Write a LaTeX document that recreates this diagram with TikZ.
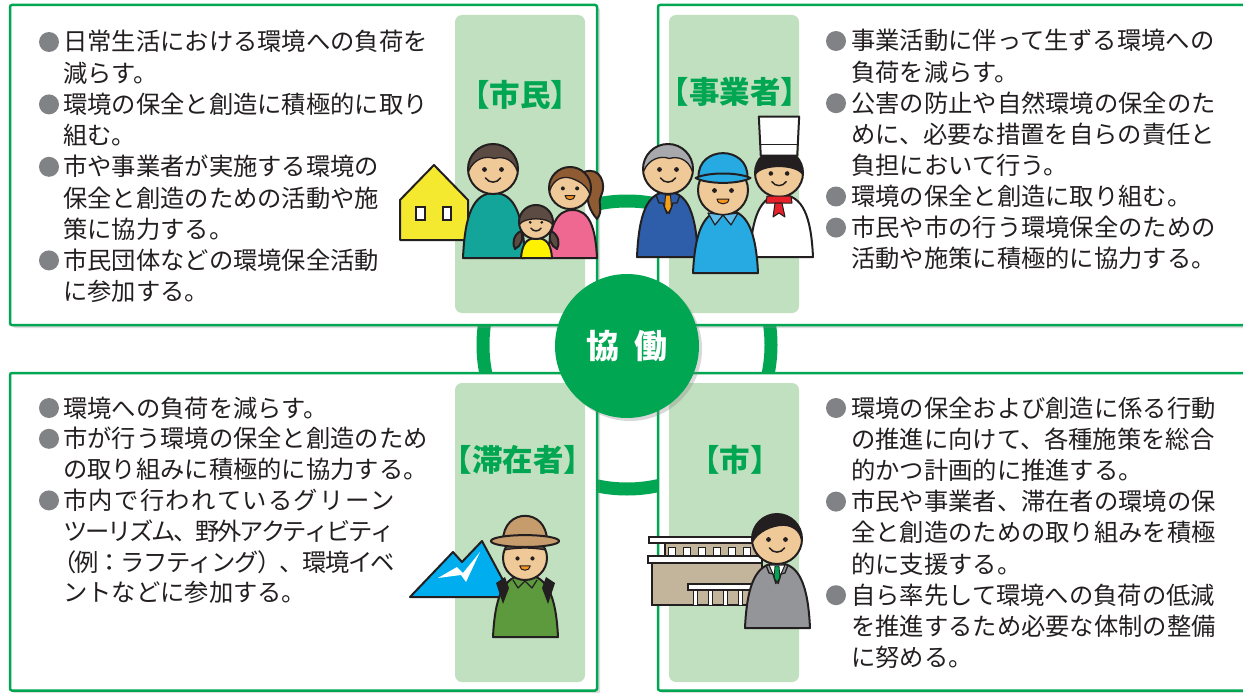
\documentclass[tikz,border=0pt]{standalone}
\usepackage{fontspec}
\newfontfamily\jp{Noto Sans CJK JP}
\usetikzlibrary{shadows}

\definecolor{kgreen}{RGB}{0,166,81}
\definecolor{colfill}{RGB}{193,224,191}
\definecolor{ink}{RGB}{35,31,32}
\definecolor{dotgray}{RGB}{128,130,133}
\definecolor{skin}{RGB}{240,201,152}
\definecolor{hairdk}{RGB}{92,75,66}
\definecolor{hairbr}{RGB}{142,91,51}
\definecolor{hairgy}{RGB}{167,169,172}
\definecolor{shirtteal}{RGB}{19,165,154}
\definecolor{pinkc}{RGB}{239,104,145}
\definecolor{girly}{RGB}{255,242,0}
\definecolor{housey}{RGB}{244,233,47}
\definecolor{navy}{RGB}{46,94,169}
\definecolor{ltblue}{RGB}{39,170,225}
\definecolor{collarb}{RGB}{95,190,235}
\definecolor{hikerg}{RGB}{92,154,61}
\definecolor{hattan}{RGB}{198,156,109}
\definecolor{mtblue}{RGB}{0,174,239}
\definecolor{bldtan}{RGB}{195,181,156}
\definecolor{suitg}{RGB}{147,149,152}
\definecolor{mouthc}{RGB}{247,148,29}
\definecolor{scarf}{RGB}{232,32,42}
\definecolor{tieor}{RGB}{246,160,26}

% spread the characters of a line evenly over a given width
\makeatletter
\def\sp@read#1#2\@nil{#1\if\relax\detokenize{#2}\relax\else\hskip0pt plus1fil minus1fil\sp@read#2\@nil\fi}
\newcommand\spreadto[2]{\makebox[#1][s]{\sp@read#2\@nil}}
\makeatother

% face parts, in units of the head radius (y points down)
\newcommand\mkeyes{\fill[ink] (-0.34,0.02) circle (0.095); \fill[ink] (0.34,0.02) circle (0.095);}
\newcommand\mksmile{\draw[ink,line width=1.5pt,line cap=round] (-0.3,0.36) .. controls (-0.15,0.58) and (0.15,0.58) .. (0.3,0.36);}
\newcommand\mkgrin{\filldraw[fill=mouthc,draw=ink,line width=1pt,line join=round] (-0.24,0.36) -- (0.24,0.36) .. controls (0.22,0.62) and (-0.22,0.62) .. cycle;}

% head: centre x, centre y, radius, hair (clipped to the head), mouth (0 smile, 1 open), things on top
\newcommand\drawhead[6]{%
  \begin{scope}[shift={(#1,#2)},scale=#3]
    \begin{scope}
      \clip (0,0) circle (1);
      \fill[skin] (0,0) circle (1);
      #4
    \end{scope}
    \mkeyes
    \ifcase#5\relax\mksmile\or\mkgrin\fi
    \draw[outline] (0,0) circle (1);
    #6
  \end{scope}}

% bell-shaped body: left x, right x, top y, bottom y, colour
\newcommand\dome[5]{%
  \filldraw[fill=#5,outline] (#1,#4) .. controls ({#1+0.03*(#2-#1)},{#3+0.35*(#4-#3)}) and ({#1+0.16*(#2-#1)},#3) .. ({0.5*(#1+#2)},#3) .. controls ({#2-0.16*(#2-#1)},#3) and ({#2-0.03*(#2-#1)},{#3+0.35*(#4-#3)}) .. (#2,#4) -- cycle;}

\tikzset{
  panel/.style={draw=kgreen,line width=2.5pt,fill=white,rounded corners=2pt,
    drop shadow={shadow xshift=3pt,shadow yshift=-3pt,opacity=0.3,fill=black!45}},
  column/.style={fill=colfill,rounded corners=7pt},
  tag/.style={font=\jp\bfseries\fontsize{30.5}{30.5}\selectfont,text=kgreen,inner sep=0pt},
  txt/.style={font=\jp\fontsize{24.3}{24.3}\selectfont,text=ink,anchor=west,inner sep=0pt,
    text height=21pt,text depth=3pt},
  dot/.style={fill=dotgray},
  outline/.style={draw=ink,line width=2pt,line join=round},
  hub/.style={circle,fill=kgreen,minimum size=144pt,inner sep=0pt,text=white,
    font=\jp\bfseries\fontsize{33}{33}\selectfont,
    drop shadow={shadow xshift=3pt,shadow yshift=-3pt,opacity=0.3,fill=black!50}},
}

\begin{document}
\begin{tikzpicture}[x=1pt,y=-1pt]
\useasboundingbox (0,0) rectangle (1243,693);
\fill[white] (0,0) rectangle (1243,693);
\clip (0,0) rectangle (1243,693);

% ring linking the four partners
\draw[kgreen,line width=13pt] (627,345) circle (144);

% the four panels
\draw[panel] (10,5) rectangle (597,325);
\draw[panel] (658,5) rectangle (1262,325);
\draw[panel] (10,373) rectangle (597,690.5);
\draw[panel] (658,373) rectangle (1262,690.5);

\fill[column] (455,15) rectangle (585,313);
\fill[column] (669,15) rectangle (799,313);
\fill[column] (455,383) rectangle (585,682);
\fill[column] (669,383) rectangle (799,682);

% panel titles
\node[tag] (citizen) at (520,95) {【市民】};
\node[tag] (business) at (735,92) {【事業者】};
\node[tag] (visitor) at (518,460) {【滞在者】};
\node[tag] (city) at (735,460) {【市】};

% ---- citizens
\fill[dot] (49,42) circle (10);
\node[txt] (c1) at (63,42) {日常生活における環境への負荷を};
\node[txt] (c2) at (63,73.2) {減らす。};
\fill[dot] (49,104.4) circle (10);
\node[txt] (c3) at (63,104.4) {環境の保全と創造に積極的に取り};
\node[txt] (c4) at (63,135.6) {組む。};
\fill[dot] (49,166.8) circle (10);
\node[txt] (c5) at (63,166.8) {市や事業者が実施する環境の};
\node[txt] (c6) at (63,198) {保全と創造のための活動や施};
\node[txt] (c7) at (63,229.2) {策に協力する。};
\fill[dot] (49,260.4) circle (10);
\node[txt] (c8) at (63,260.4) {市民団体などの環境保全活動};
\node[txt] (c9) at (63,291.6) {に参加する。};

% ---- businesses
\fill[dot] (836,41) circle (10);
\node[txt] (b1) at (851,41) {事業活動に伴って生ずる環境への};
\node[txt] (b2) at (851,72.1) {負荷を減らす。};
\fill[dot] (836,103.2) circle (10);
\node[txt] (b3) at (851,103.2) {公害の防止や自然環境の保全のた};
\node[txt] (b4) at (851,134.3) {めに、必要な措置を自らの責任と};
\node[txt] (b5) at (851,165.4) {負担において行う。};
\fill[dot] (836,196.5) circle (10);
\node[txt] (b6) at (851,196.5) {環境の保全と創造に取り組む。};
\fill[dot] (836,227.6) circle (10);
\node[txt] (b7) at (851,227.6) {市民や市の行う環境保全のための};
\node[txt] (b8) at (851,258.7) {活動や施策に積極的に協力する。};

% ---- visitors
\fill[dot] (49,408) circle (10);
\node[txt] (v1) at (63,408) {環境への負荷を減らす。};
\fill[dot] (49,438.8) circle (10);
\node[txt] (v2) at (63,438.8) {市が行う環境の保全と創造のため};
\node[txt] (v3) at (63,469.6) {の取り組みに積極的に協力する。};
\fill[dot] (49,500.4) circle (10);
\node[txt] (v4) at (63,500.4) {\spreadto{332pt}{市内で行われているグリーン}};
\node[txt] (v5) at (63,531.2) {\spreadto{332pt}{ツーリズム、野外アクティビティ}};
\node[txt] (v6) at (52,562) {\spreadto{343pt}{（例：ラフティング）、環境イベ}};
\node[txt] (v7) at (63,592.8) {ントなどに参加する。};

% ---- city
\fill[dot] (836,408) circle (10);
\node[txt] (m1) at (851,408) {環境の保全および創造に係る行動};
\node[txt] (m2) at (851,439.2) {の推進に向けて、各種施策を総合};
\node[txt] (m3) at (851,470.4) {的かつ計画的に推進する。};
\fill[dot] (836,501.6) circle (10);
\node[txt] (m4) at (851,501.6) {市民や事業者、滞在者の環境の保};
\node[txt] (m5) at (851,532.8) {全と創造のための取り組みを積極};
\node[txt] (m6) at (851,564) {的に支援する。};
\fill[dot] (836,595.2) circle (10);
\node[txt] (m7) at (851,595.2) {自ら率先して環境への負荷の低減};
\node[txt] (m8) at (851,626.4) {を推進するため必要な体制の整備};
\node[txt] (m9) at (851,657.6) {に努める。};

% ---- family and house
\filldraw[fill=housey,outline] (400,240) -- (400,200) -- (434,165) -- (468,200) -- (468,240) -- cycle;
\filldraw[fill=white,draw=ink,line width=1.5pt] (416,207) rectangle (425,220);
\filldraw[fill=white,draw=ink,line width=1.5pt] (443,207) rectangle (451,220);
\dome{463}{525}{193}{258}{shirtteal}
\dome{548}{597}{210}{258}{pinkc}
\filldraw[fill=hairbr,outline] (584,172) .. controls (600,166) and (607,184) .. (601,196) .. controls (597,204) and (604,210) .. (597,219) .. controls (590,211) and (586,201) .. (588,190) -- cycle;
\dome{521}{552}{238}{258}{girly}
\filldraw[fill=hairdk,outline] (521,231) .. controls (513,235) and (512,244) .. (515,249) .. controls (521,246) and (524,239) .. cycle;
\filldraw[fill=hairdk,outline] (551,231) .. controls (559,235) and (560,244) .. (557,249) .. controls (551,246) and (548,239) .. cycle;
\drawhead{493}{169}{25}{%
  \filldraw[fill=hairdk,draw=ink,line width=1.3pt] (-1.2,0.08) -- (-1.2,-1.2) -- (1.2,-1.2) -- (1.2,0.08) -- (0.97,0.08) .. controls (0.8,-0.4) and (0.4,-0.52) .. (0.05,-0.42) .. controls (-0.3,-0.55) and (-0.78,-0.4) .. (-0.97,0.08) -- cycle;}{0}{}
\drawhead{570}{188}{21}{%
  \filldraw[fill=hairbr,draw=ink,line width=1.3pt] (-1.2,0.15) -- (-1.2,-1.2) -- (1.2,-1.2) -- (1.2,0.3) -- (0.95,0.3) .. controls (0.8,-0.1) and (0.5,-0.3) .. (0.1,-0.45) .. controls (-0.3,-0.6) and (-0.8,-0.45) .. (-0.97,0.15) -- cycle;}{1}{}
\drawhead{536}{222}{17}{%
  \filldraw[fill=hairdk,draw=ink,line width=1.3pt] (-1.2,0.15) -- (-1.2,-1.2) -- (1.2,-1.2) -- (1.2,0.15) -- (0.98,0.15) .. controls (0.7,-0.3) and (-0.7,-0.3) .. (-0.98,0.15) -- cycle;}{0}{}

% ---- businessman, chef and worker
\dome{637}{698}{192}{257}{navy}
\dome{750}{813}{195}{257}{white}
\drawhead{668}{169}{25}{%
  \filldraw[fill=hairgy,draw=ink,line width=1.3pt] (-1.2,0.08) -- (-1.2,-1.2) -- (1.2,-1.2) -- (1.2,0.08) -- (0.97,0.08) .. controls (0.8,-0.4) and (0.4,-0.52) .. (0.05,-0.42) .. controls (-0.3,-0.55) and (-0.78,-0.4) .. (-0.97,0.08) -- cycle;}{0}{}
\filldraw[fill=tieor,draw=ink,line width=1pt,line join=round] (665.5,195) -- (670.5,195) -- (671.5,208) -- (668,213) -- (664.5,208) -- cycle;
\draw[ink,line width=1.3pt,line join=round] (656,195) -- (659,203) -- (663,203) -- (667,214);
\draw[ink,line width=1.3pt,line join=round] (680,195) -- (677,203) -- (673,203) -- (669,214);
\drawhead{779}{173}{24}{%
  \filldraw[fill=ink,draw=ink,line width=1.3pt] (-1.2,0.05) -- (-1.2,-1.2) -- (1.2,-1.2) -- (1.2,0.05) -- (0.98,0.05) .. controls (0.7,-0.38) and (-0.7,-0.38) .. (-0.98,0.05) -- cycle;}{0}{%
  \filldraw[fill=white,outline] (-0.76,-0.72) -- (-0.84,-2.35) -- (0.84,-2.35) -- (0.76,-0.72) -- cycle;
  \draw[ink,line width=1.3pt] (-0.78,-1.2) -- (0.78,-1.2);}
\filldraw[fill=scarf,draw=ink,line width=1pt,line join=round] (767,196) -- (791,196) -- (792,203) -- (766,203) -- cycle;
\filldraw[fill=scarf,draw=ink,line width=1pt,line join=round] (775,203) -- (782,203) -- (785,217) -- (779,213) -- (773,217) -- cycle;
\dome{693}{758}{210}{273}{ltblue}
\drawhead{723}{190}{25}{}{1}{%
  \filldraw[fill=ltblue,outline] (-0.98,-0.5) .. controls (-1.02,-1.8) and (1.02,-1.8) .. (0.98,-0.5) -- cycle;
  \filldraw[fill=ltblue,outline] (-1.1,-0.48) .. controls (-0.6,-0.72) and (0.6,-0.72) .. (1.1,-0.48) .. controls (0.6,-0.22) and (-0.6,-0.22) .. cycle;}
\filldraw[fill=collarb,draw=ink,line width=1.2pt,line join=round] (708,213) -- (723,215) -- (715,225) -- cycle;
\filldraw[fill=collarb,draw=ink,line width=1.2pt,line join=round] (738,213) -- (723,215) -- (731,225) -- cycle;

% ---- mountain and hiker
\filldraw[fill=mtblue,outline] (410,597) -- (453,552) -- (462,562) -- (482,541) -- (512,597) -- cycle;
\fill[white] (438,578) -- (457,567) -- (463,573) -- (480,552) -- (466,582) -- (461,575) -- cycle;
\dome{493}{558}{575}{637}{hikerg}
\fill[ink] (496,583) -- (505,577) -- (509,588) -- (503,604) -- cycle;
\fill[ink] (555,583) -- (546,577) -- (542,588) -- (548,604) -- cycle;
\drawhead{525}{558}{22}{%
  \filldraw[fill=hairdk,draw=ink,line width=1.2pt] (-1.2,-0.3) .. controls (-0.5,-0.5) and (0.5,-0.5) .. (1.2,-0.3) -- (1.2,-1.2) -- (-1.2,-1.2) -- cycle;}{1}{%
  \filldraw[fill=hattan,outline] (-1.0,-0.77) .. controls (-1.0,-2.3) and (1.0,-2.3) .. (1.0,-0.77) -- cycle;
  \filldraw[fill=hattan,outline] (0,-0.77) ellipse [x radius=1.55,y radius=0.27];}
\draw[ink,line width=1.2pt,line join=round] (513,580) -- (518,588) -- (525,581) -- (532,588) -- (537,580);

% ---- city hall and official
\filldraw[fill=bldtan,draw=ink,line width=1.5pt] (652,563) rectangle (762,605);
\filldraw[fill=bldtan,draw=ink,line width=1.5pt] (665,543) rectangle (762,556);
\filldraw[fill=white,draw=ink,line width=1.5pt] (649,537) rectangle (762,543);
\filldraw[fill=white,draw=ink,line width=1.5pt] (648,556) rectangle (762,563);
\foreach \wx in {668,683,698,713,728,743}
  \filldraw[fill=white,draw=ink,line width=1pt] (\wx,547) rectangle ({\wx+7},555);
\filldraw[fill=white,draw=ink,line width=1.5pt] (688,584) rectangle (752,590);
\foreach \px in {693,708,723,738}
  \filldraw[fill=white,draw=ink,line width=1pt] (\px,590) rectangle ({\px+4},605);
\dome{745}{810}{563}{628}{suitg}
\drawhead{777}{539}{25}{%
  \filldraw[fill=ink,draw=ink,line width=1.3pt] (-1.2,0.05) -- (-1.2,-1.2) -- (1.2,-1.2) -- (1.2,0.0) -- (0.97,0.0) .. controls (0.9,-0.35) and (0.6,-0.55) .. (0.25,-0.55) .. controls (-0.2,-0.55) and (-0.75,-0.3) .. (-0.97,0.1) -- cycle;}{0}{}
\filldraw[fill=white,draw=ink,line width=1pt,line join=round] (769,565) -- (785,565) -- (777,583) -- cycle;
\filldraw[fill=kgreen,draw=ink,line width=0.8pt,line join=round] (775,566) -- (779,566) -- (780,578) -- (777,582) -- (774,578) -- cycle;
\draw[ink,line width=1.3pt,line join=round] (766,565) -- (769,573) -- (773,574) -- (776,584);
\draw[ink,line width=1.3pt,line join=round] (788,565) -- (785,573) -- (781,574) -- (778,584);

% collaboration hub
\node[hub] (hub) at (627,346) {協\hspace{15pt}働};
\end{tikzpicture}
\end{document}
